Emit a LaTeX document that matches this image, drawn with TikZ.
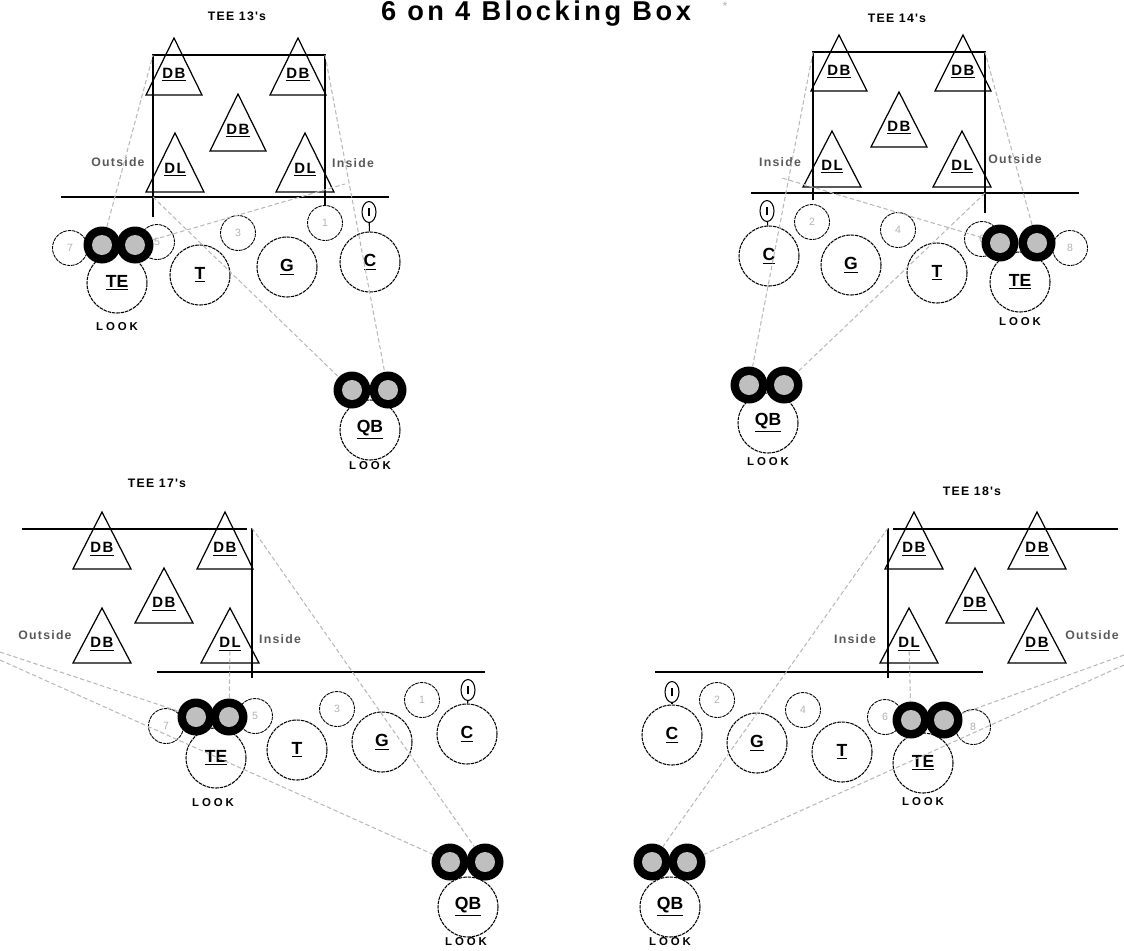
\documentclass[tikz,border=0pt]{standalone}
\usepackage{fontspec}
\setmainfont{Liberation Sans}
\setsansfont{Liberation Sans}
\newfontfamily\titleface[LetterSpace=13]{Liberation Sans}
\newfontfamily\wideface[LetterSpace=10]{Liberation Sans}
\newfontfamily\lookface[LetterSpace=25]{Liberation Sans}
\usetikzlibrary{shapes.geometric, positioning}

\begin{document}
\begin{tikzpicture}[
    x=0.02cm, y=-0.02cm,
    every node/.style={inner sep=0pt},
    lineman/.style={circle, draw, line width=0.6pt, dash pattern=on 2pt off 0.5pt, minimum size=1.2cm, font=\bfseries\fontsize{10}{10}\selectfont},
    hole/.style={circle, draw, line width=0.5pt, dash pattern=on 2pt off 0.5pt, minimum size=0.7cm, text=gray!60, font=\fontsize{6}{6}\selectfont},
    helmet/.style={circle, fill=black, minimum size=0.74cm, path picture={\fill[gray!50] (path picture bounding box.center) circle (0.2cm);}},
    ball/.style={ellipse, draw, line width=0.6pt, minimum width=0.28cm, minimum height=0.42cm},
    defender/.style={draw, line width=0.7pt},
    tag/.style={font=\wideface\bfseries\fontsize{8.5}{8.5}\selectfont},
    side/.style={text=gray!70!black, font=\wideface\bfseries\fontsize{7}{7}\selectfont},
    look/.style={font=\lookface\bfseries\fontsize{6.5}{6.5}\selectfont},
    heading/.style={font=\wideface\bfseries\fontsize{7}{7}\selectfont},
    box/.style={line width=0.8pt},
    read/.style={draw=gray!55, line width=0.6pt, dash pattern=on 2.5pt off 1.5pt},
]
\useasboundingbox (0,0) rectangle (1124,950);

% Title
\node[font=\titleface\bfseries\fontsize{15.5}{15.5}\selectfont, anchor=base] (title) at (536,20) {6 on 4 Blocking Box};
\node[text=gray!60, font=\fontsize{7}{7}\selectfont] (star) at (725,6) {*};

% ---------------- TEE 13's ----------------
\node[heading] (h13) at (237,16) {TEE 13's};
\coordinate (tl13) at (153,55);
\coordinate (tr13) at (325,55);
\coordinate (los13) at (153,197);
\coordinate (in13) at (345,184);
\draw[box] (153,217) -- (tl13) -- (tr13) -- (325,205);
\draw[box] (61,197) -- (389,197);

% defenders
\draw[defender] (174,38) -- ++(28,57) -- ++(-56,0) -- cycle;
\node[tag] (db13a) at (174,75) {\underline{DB}};
\draw[defender] (298,38) -- ++(28,57) -- ++(-56,0) -- cycle;
\node[tag] (db13b) at (298,75) {\underline{DB}};
\draw[defender] (238,94) -- ++(28,57) -- ++(-56,0) -- cycle;
\node[tag] (db13c) at (238,131) {\underline{DB}};
\draw[defender] (175,133) -- ++(29,59) -- ++(-58,0) -- cycle;
\node[tag] (dl13a) at (175,170) {\underline{DL}};
\draw[defender] (305,133) -- ++(29,59) -- ++(-58,0) -- cycle;
\node[tag] (dl13b) at (305,170) {\underline{DL}};
\node[side] (out13) at (118,162) {Outside};
\node[side] (ins13) at (353,163) {Inside};

% offense
\node[hole] (g13s7) at (70,248) {7};
\node[hole] (g13s5) at (157,242) {5};
\node[hole] (g13s3) at (238,233) {3};
\node[hole] (g13s1) at (325,223) {1};
\node[lineman] (te13) at (117,283) {\underline{TE}};
\node[lineman] (t13) at (200,275) {\underline{T}};
\node[lineman] (g13) at (287,267) {\underline{G}};
\node[lineman] (c13) at (370,262) {\underline{C}};
\node[ball] (bl13) at (369,212) {\rule{1.3pt}{5pt}};
\draw[line width=0.6pt] (bl13) -- (c13);
\node[helmet] (te13l) at (102,245) {};
\node[helmet] (te13r) at (135,245) {};
\node[look] (lk13) at (117,327) {LOOK};
\node[lineman] (qb13) at (370,430) {\underline{QB}};
\node[helmet] (qb13l) at (352,390) {};
\node[helmet] (qb13r) at (388,390) {};
\node[look] (lq13) at (370,466) {LOOK};

% reads
\draw[read] (te13l) -- (tl13);
\draw[read] (te13r) -- (in13);
\draw[read] (los13) -- (qb13l);
\draw[read] (tr13) -- (qb13r);

% ---------------- TEE 14's ----------------
\node[heading] (h14) at (897,18) {TEE 14's};
\coordinate (tl14) at (813,52);
\coordinate (tr14) at (985,52);
\coordinate (los14) at (985,193);
\coordinate (in14) at (782,178);
\draw[box] (813,200) -- (tl14) -- (tr14) -- (985,213);
\draw[box] (751,193) -- (1079,193);

% defenders
\draw[defender] (839,35) -- ++(28,56) -- ++(-56,0) -- cycle;
\node[tag] (db14a) at (839,72) {\underline{DB}};
\draw[defender] (963,35) -- ++(28,56) -- ++(-56,0) -- cycle;
\node[tag] (db14b) at (963,72) {\underline{DB}};
\draw[defender] (899,92) -- ++(28,55) -- ++(-56,0) -- cycle;
\node[tag] (db14c) at (899,128) {\underline{DB}};
\draw[defender] (832,131) -- ++(29,56) -- ++(-58,0) -- cycle;
\node[tag] (dl14a) at (832,167) {\underline{DL}};
\draw[defender] (962,131) -- ++(29,56) -- ++(-58,0) -- cycle;
\node[tag] (dl14b) at (962,167) {\underline{DL}};
\node[side] (ins14) at (780,162) {Inside};
\node[side] (out14) at (1015,159) {Outside};

% offense
\node[hole] (g14s2) at (812,222) {2};
\node[hole] (g14s4) at (898,230) {4};
\node[hole] (g14s6) at (982,239) {6};
\node[hole] (g14s8) at (1070,248) {8};
\node[lineman] (c14) at (769,256) {\underline{C}};
\node[lineman] (g14) at (851,265) {\underline{G}};
\node[lineman] (t14) at (937,273) {\underline{T}};
\node[lineman] (te14) at (1020,282) {\underline{TE}};
\node[ball] (bl14) at (767,211) {\rule{1.3pt}{5pt}};
\draw[line width=0.6pt] (bl14) -- (c14);
\node[helmet] (te14l) at (1000,243) {};
\node[helmet] (te14r) at (1037,243) {};
\node[look] (lk14) at (1020,322) {LOOK};
\node[lineman] (qb14) at (768,423) {\underline{QB}};
\node[helmet] (qb14l) at (749,385) {};
\node[helmet] (qb14r) at (784,385) {};
\node[look] (lq14) at (768,462) {LOOK};

% reads
\draw[read] (te14r) -- (tr14);
\draw[read] (te14l) -- (in14);
\draw[read] (los14) -- (qb14r);
\draw[read] (tl14) -- (qb14l);

% ---------------- TEE 17's ----------------
\node[heading] (h17) at (157,483) {TEE 17's};
\coordinate (tr17) at (252,528);
\coordinate (dl17) at (260,662);
\coordinate (e17a) at (0,652);
\coordinate (e17b) at (0,660);
\draw[box] (22,529) -- (247,529);
\draw[box] (tr17) -- (252,678);
\draw[box] (157,672) -- (485,672);

% defenders
\draw[defender] (102,512) -- ++(29,57) -- ++(-58,0) -- cycle;
\node[tag] (db17a) at (102,549) {\underline{DB}};
\draw[defender] (225,512) -- ++(28,57) -- ++(-56,0) -- cycle;
\node[tag] (db17b) at (225,549) {\underline{DB}};
\draw[defender] (164,568) -- ++(29,55) -- ++(-58,0) -- cycle;
\node[tag] (db17c) at (164,604) {\underline{DB}};
\draw[defender] (102,608) -- ++(29,55) -- ++(-58,0) -- cycle;
\node[tag] (db17d) at (102,644) {\underline{DB}};
\draw[defender] (230,608) -- ++(29,55) -- ++(-58,0) -- cycle;
\node[tag] (dl17) at (230,644) {\underline{DL}};
\node[side] (out17) at (45,635) {Outside};
\node[side] (ins17) at (280,639) {Inside};

% offense
\node[hole] (g17s7) at (166,726) {7};
\node[hole] (g17s5) at (255,716) {5};
\node[hole] (g17s3) at (337,709) {3};
\node[hole] (g17s1) at (422,700) {1};
\node[lineman] (te17) at (216,758) {\underline{TE}};
\node[lineman] (t17) at (297,750) {\underline{T}};
\node[lineman] (g17) at (382,742) {\underline{G}};
\node[lineman] (c17) at (467,734) {\underline{C}};
\node[ball] (bl17) at (468,690) {\rule{1.3pt}{5pt}};
\draw[line width=0.6pt] (bl17) -- (c17);
\node[helmet] (te17l) at (196,717) {};
\node[helmet] (te17r) at (229,717) {};
\node[look] (lk17) at (213,803) {LOOK};
\node[lineman] (qb17) at (468,907) {\underline{QB}};
\node[helmet] (qb17l) at (450,862) {};
\node[helmet] (qb17r) at (485,862) {};
\node[look] (lq17) at (466,942) {LOOK};

% reads
\draw[read] (tr17) -- (qb17r);
\draw[read] (dl17) -- (te17r);
\draw[read] (e17a) -- (te17l);
\draw[read] (e17b) -- (qb17l);

% ---------------- TEE 18's ----------------
\node[heading] (h18) at (972,491) {TEE 18's};
\coordinate (tl18) at (888,528);
\coordinate (dl18) at (880,663);
\coordinate (e18a) at (1124,655);
\coordinate (e18b) at (1124,665);
\draw[box] (893,529) -- (1118,529);
\draw[box] (tl18) -- (888,678);
\draw[box] (655,672) -- (983,672);

% defenders
\draw[defender] (914,512) -- ++(29,57) -- ++(-58,0) -- cycle;
\node[tag] (db18a) at (914,549) {\underline{DB}};
\draw[defender] (1037,512) -- ++(29,57) -- ++(-58,0) -- cycle;
\node[tag] (db18b) at (1037,549) {\underline{DB}};
\draw[defender] (975,568) -- ++(29,55) -- ++(-58,0) -- cycle;
\node[tag] (db18c) at (975,604) {\underline{DB}};
\draw[defender] (909,608) -- ++(29,55) -- ++(-58,0) -- cycle;
\node[tag] (dl18) at (909,644) {\underline{DL}};
\draw[defender] (1037,608) -- ++(29,55) -- ++(-58,0) -- cycle;
\node[tag] (db18d) at (1037,644) {\underline{DB}};
\node[side] (ins18) at (855,639) {Inside};
\node[side] (out18) at (1092,635) {Outside};

% offense
\node[hole] (g18s2) at (717,700) {2};
\node[hole] (g18s4) at (803,710) {4};
\node[hole] (g18s6) at (885,717) {6};
\node[hole] (g18s8) at (973,727) {8};
\node[lineman] (c18) at (672,735) {\underline{C}};
\node[lineman] (g18) at (757,743) {\underline{G}};
\node[lineman] (t18) at (842,752) {\underline{T}};
\node[lineman] (te18) at (923,763) {\underline{TE}};
\node[ball] (bl18) at (672,692) {\rule{1.3pt}{5pt}};
\draw[line width=0.6pt] (bl18) -- (c18);
\node[helmet] (te18l) at (911,720) {};
\node[helmet] (te18r) at (944,720) {};
\node[look] (lk18) at (923,802) {LOOK};
\node[lineman] (qb18) at (670,907) {\underline{QB}};
\node[helmet] (qb18l) at (652,862) {};
\node[helmet] (qb18r) at (687,862) {};
\node[look] (lq18) at (670,942) {LOOK};

% reads
\draw[read] (tl18) -- (qb18l);
\draw[read] (dl18) -- (te18l);
\draw[read] (e18a) -- (te18r);
\draw[read] (e18b) -- (qb18r);

\end{tikzpicture}
\end{document}
